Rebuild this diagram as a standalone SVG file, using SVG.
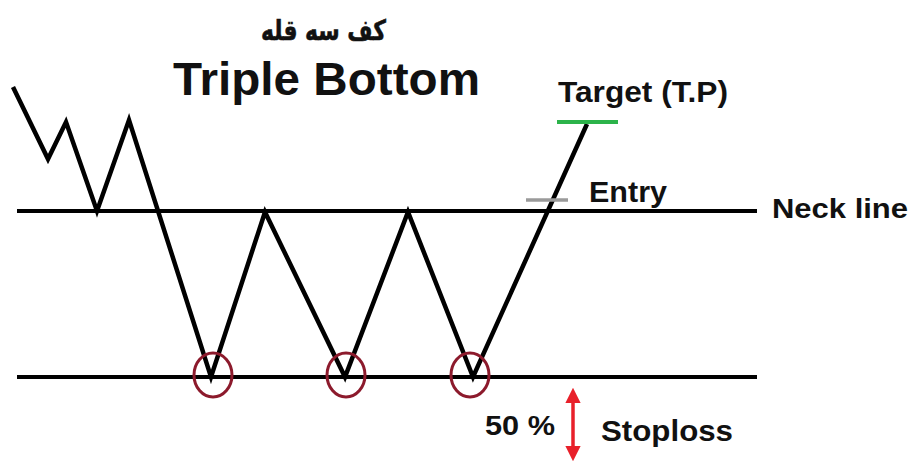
<svg xmlns="http://www.w3.org/2000/svg" width="914" height="461" viewBox="0 0 914 461">
<style>
.lbl{font-family:"Liberation Sans",Arial,sans-serif;font-weight:bold;fill:#111;}
.ln{stroke:#000;stroke-width:4;fill:none;}
.zz{stroke:#000;stroke-width:4.5;fill:none;stroke-linejoin:miter;}
.ring{fill:none;stroke:#8c1a2c;stroke-width:3;}
</style>
<defs>
<marker id="ah" viewBox="0 0 10 10" refX="6" refY="5" markerWidth="4.5" markerHeight="4.5" orient="auto-start-reverse">
<path d="M0,0 L10,5 L0,10 z" fill="#e8202a"/>
</marker>
</defs>
<rect width="914" height="461" fill="#fff"/>
<g id="title">
<text x="261" y="40" font-family="'DejaVu Sans',sans-serif" font-weight="bold" font-size="28" fill="#111" stroke="#111" stroke-width="0.6" textLength="125" lengthAdjust="spacingAndGlyphs">کف سه قله</text>
<text x="173" y="95" class="lbl" font-size="46" textLength="307" lengthAdjust="spacingAndGlyphs">Triple Bottom</text>
</g>
<g id="connectors">
<line class="ln" x1="17" y1="211" x2="757" y2="211"/>
<line class="ln" x1="17" y1="377" x2="757" y2="377"/>
<polyline class="zz" points="13,87 48,159 66,122 97,211 129,120 211,377 265,212 345,377 408,212 473,377 587,124"/>
<line x1="557" y1="122" x2="618" y2="122" stroke="#2cb34a" stroke-width="4"/>
<line x1="526" y1="200" x2="568" y2="200" stroke="#9a9a9a" stroke-width="3.5"/>
<line x1="573" y1="394" x2="573" y2="455" stroke="#e8202a" stroke-width="3.5" marker-start="url(#ah)" marker-end="url(#ah)"/>
</g>
<g id="bottoms">
<ellipse class="ring" cx="213" cy="375" rx="19" ry="22"/>
<ellipse class="ring" cx="346" cy="375" rx="19" ry="22"/>
<ellipse class="ring" cx="470" cy="375" rx="19" ry="22"/>
</g>
<g id="target"><text x="558" y="102" class="lbl" font-size="29" textLength="170" lengthAdjust="spacingAndGlyphs">Target (T.P)</text></g>
<g id="entry"><text x="589" y="202" class="lbl" font-size="29" textLength="78" lengthAdjust="spacingAndGlyphs">Entry</text></g>
<g id="neck"><text x="772" y="218" class="lbl" font-size="28" textLength="136" lengthAdjust="spacingAndGlyphs">Neck line</text></g>
<g id="pct"><text x="485" y="435" class="lbl" font-size="28" textLength="70" lengthAdjust="spacingAndGlyphs">50 %</text></g>
<g id="stoploss"><text x="601" y="441" class="lbl" font-size="29" textLength="132" lengthAdjust="spacingAndGlyphs">Stoploss</text></g>
</svg>
